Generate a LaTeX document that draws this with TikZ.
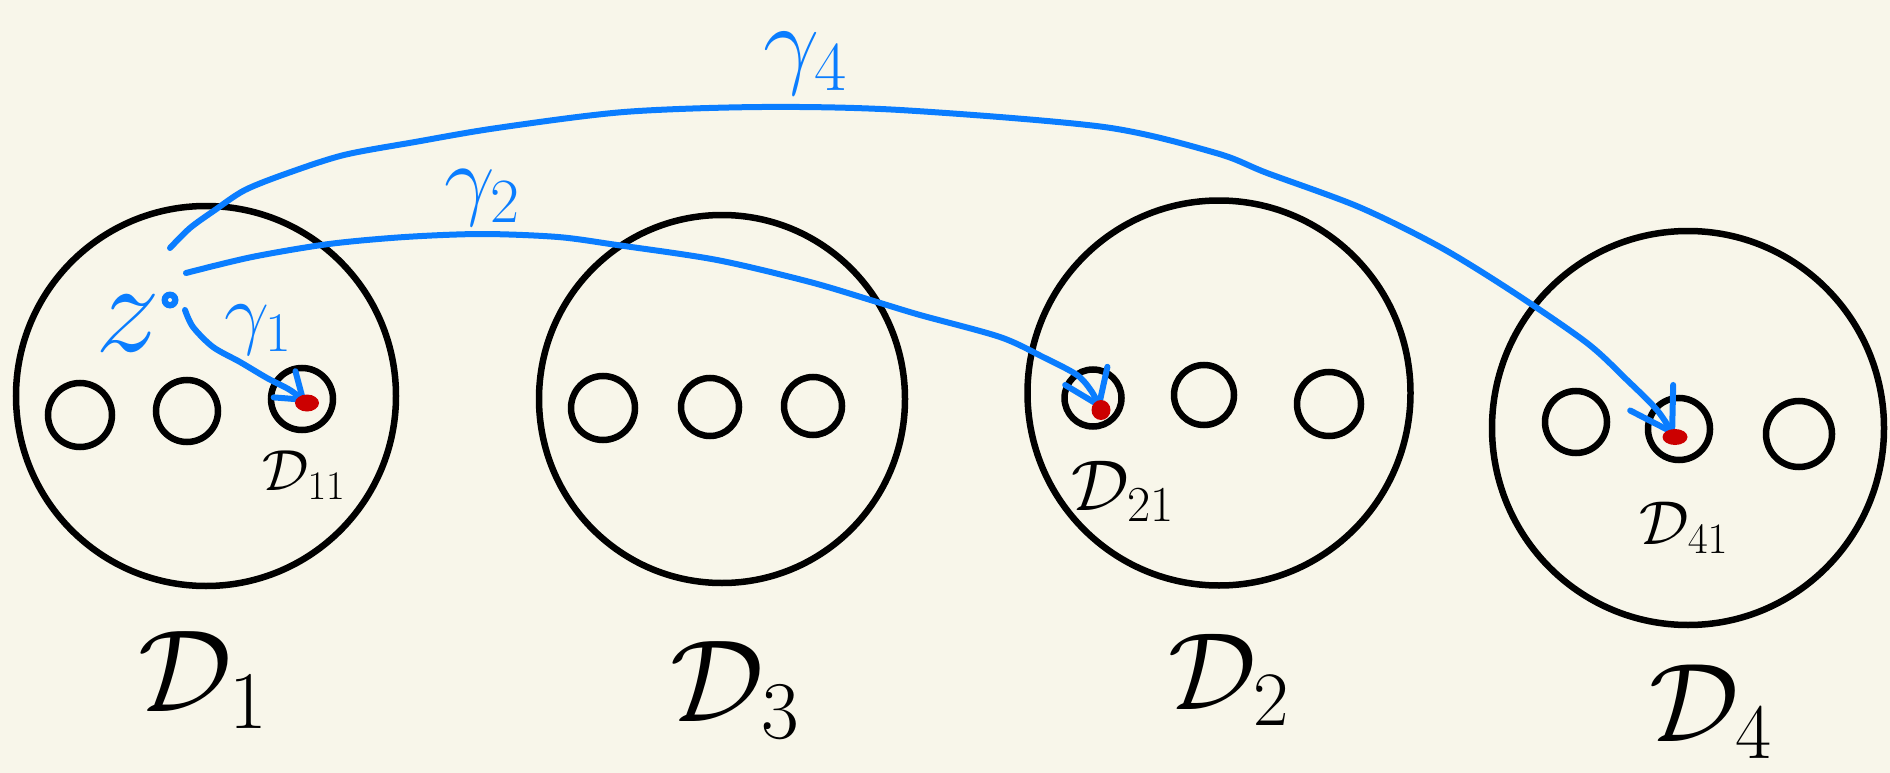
\documentclass[tikz,border=0pt]{standalone}
\usepackage{fix-cm}
\usetikzlibrary{shapes.geometric,arrows.meta}
\definecolor{bg}{HTML}{F8F6EA}
\definecolor{pen}{HTML}{0A7DFF}
\definecolor{dotred}{HTML}{CC0000}
\newcommand{\fsz}[1]{\fontsize{#1}{#1}\selectfont}
\tikzset{
  disk/.style={draw=black, line width=6.5pt, ellipse, inner sep=0pt},
  hole/.style={draw=black, line width=6.5pt, circle, inner sep=0pt, minimum size=#1},
  bluepath/.style={draw=pen, line width=6pt, line cap=round, line join=round},
  arrowed/.style 2 args={bluepath, -{Straight Barb[length=#1,width=#2,line cap=round]}},
  reddot/.style={fill=dotred, ellipse, inner sep=0pt},
  lbl/.style={inner sep=0pt, text=black},
  bluelbl/.style={inner sep=0pt, text=pen},
}
\begin{document}
\begin{tikzpicture}[x=1pt,y=-1pt]
\fill[bg] (0,0) rectangle (1890,773);
\useasboundingbox (0,0) rectangle (1890,773);

% big discs
\node[disk, minimum width=380pt, minimum height=380pt] (D1) at (206,396) {};
\node[disk, minimum width=366pt, minimum height=368pt] (D3) at (722,399) {};
\node[disk, minimum width=383pt, minimum height=385pt] (D2) at (1219,393) {};
\node[disk, minimum width=392pt, minimum height=394pt] (D4) at (1688,428) {};

% holes
\node[hole=64pt] (D1a) at (80,415) {};
\node[hole=62pt] (D1b) at (187,411) {};
\node[hole=62pt] (D11) at (302,399) {};
\node[hole=64pt] (D3a) at (603,408) {};
\node[hole=58pt] (D3b) at (710,407) {};
\node[hole=58pt] (D3c) at (813,406) {};
\node[hole=57pt] (D21) at (1093,398) {};
\node[hole=60pt] (D2b) at (1204,395) {};
\node[hole=64pt] (D2c) at (1329,404) {};
\node[hole=62pt] (D4a) at (1576,422) {};
\node[hole=62pt] (D41) at (1679,429) {};
\node[hole=66pt] (D4c) at (1799,434) {};

% start points and targets
\coordinate (g1s) at (185,310);
\coordinate (g2s) at (186,273);
\coordinate (g4s) at (170,248);
\coordinate (r11) at (307,403);
\coordinate (r21) at (1101,410);
\coordinate (r41) at (1675,437);

% curves
\draw[arrowed={24pt}{34pt}] plot[smooth] coordinates {(g1s) (193,327) (213,347) (240,362) (267,378) (290,390) (r11)};
\draw[arrowed={32pt}{46pt}] plot[smooth] coordinates {(g2s) (252,257) (329,244) (405,237) (482,234) (558,237) (617,245) (717,260) (810,282) (877,302) (920,315) (1000,337) (1043,357) (1077,375) (1092,392) (r21)};
\draw[arrowed={40pt}{50pt}] plot[smooth] coordinates {(g4s) (190,228) (215,210) (245,190) (288,173) (344,155) (415,142) (497,128) (624,112) (762,107) (900,110) (1104,127) (1216,153) (1267,173) (1359,207) (1440,247) (1513,292) (1587,343) (1627,380) (1657,410) (r41)};

% red dots
\node[reddot, minimum width=24pt, minimum height=17pt] (p11) at (r11) {};
\node[reddot, minimum width=19pt, minimum height=20pt] (p21) at (r21) {};
\node[reddot, minimum width=25pt, minimum height=16pt] (p41) at (r41) {};

% base point z
\node[circle, fill=pen, inner sep=0pt, minimum size=17pt] (zpt) at (170,300) {};
\node[circle, fill=bg, inner sep=0pt, minimum size=4pt] (zc) at (zpt) {};

% labels
\node[bluelbl] (zl) at (128,324) {\fsz{130}$z$};
\node[bluelbl] (gl1) at (258,330) {\fsz{80}$\gamma_1$};
\node[bluelbl] (gl2) at (482,198) {\fsz{90}$\gamma_2$};
\node[bluelbl] (gl4) at (805,64) {\fsz{100}$\gamma_4$};

\node[lbl] (L1) at (203,680) {\fsz{117}$\mathcal{D}_1$};
\node[lbl] (L3) at (735,690) {\fsz{117}$\mathcal{D}_3$};
\node[lbl] (L2) at (1229,680) {\fsz{110}$\mathcal{D}_2$};
\node[lbl] (L4) at (1711,712) {\fsz{112}$\mathcal{D}_4$};
\node[lbl] (L11) at (304,475) {\fsz{58}$\mathcal{D}_{11}$};
\node[lbl] (L21) at (1123,491) {\fsz{72}$\mathcal{D}_{21}$};
\node[lbl] (L41) at (1684,528) {\fsz{62}$\mathcal{D}_{41}$};
\end{tikzpicture}
\end{document}
